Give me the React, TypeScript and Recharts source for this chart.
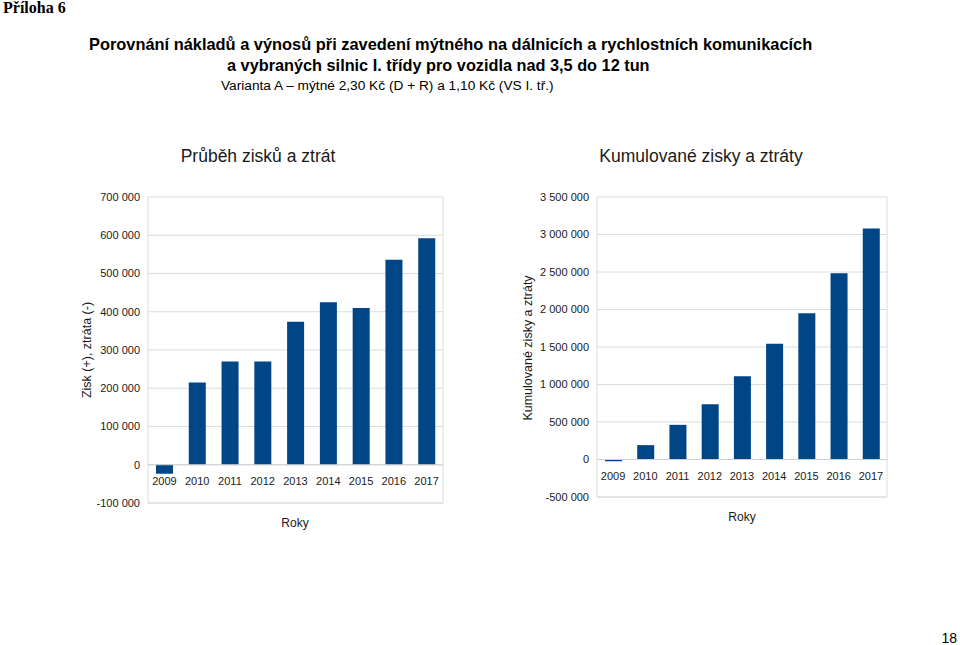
import React from 'react';
import { BarChart, Bar, XAxis, YAxis, CartesianGrid, ReferenceLine } from 'recharts';

const years = ['2009', '2010', '2011', '2012', '2013', '2014', '2015', '2016', '2017'];
const profitLoss = [-23500, 215000, 270000, 270000, 374000, 425000, 410000, 536000, 592000];
const cumulative = [-23500, 191500, 462000, 737000, 1111000, 1542000, 1951000, 2484000, 3080000];
const leftTicks = [-100000, 0, 100000, 200000, 300000, 400000, 500000, 600000, 700000];
const rightTicks = [-500000, 0, 500000, 1000000, 1500000, 2000000, 2500000, 3000000, 3500000];

const BLUE = '#004586';
const FRAME = '#dcdcdc';
const FONT = '"Liberation Sans", Arial, sans-serif';

const fmt = (v: number) => String(v).replace(/\B(?=(\d{3})+(?!\d))/g, ' ');

const yearData = years.map((y, i) => ({ year: y, value: profitLoss[i] }));
const cumData = years.map((y, i) => ({ year: y, value: cumulative[i] }));

// years sit just below the zero line, not at the bottom of the plot
const YearTick = (props: any) => {
  const { x, y, payload, shift } = props;
  return (
    <text x={x} y={y + shift} textAnchor="middle" fontSize={11} fontFamily={FONT} fill="#1a1a1a">
      {payload.value}
    </text>
  );
};

type PanelProps = {
  data: { year: string; value: number }[];
  ticks: number[];
  axisWidth: number;
  rightMargin: number;
  xHeight: number;
  shift: number;
};

function Panel({ data, ticks, axisWidth, rightMargin, xHeight, shift }: PanelProps) {
  const domain: [number, number] = [ticks[0], ticks[ticks.length - 1]];
  return (
    <BarChart
      width={400}
      height={360}
      data={data}
      margin={{ top: 17, right: rightMargin, bottom: 0, left: 0 }}
      barSize={17}
    >
      <CartesianGrid vertical={false} stroke={FRAME} />
      <XAxis
        dataKey="year"
        height={xHeight}
        tickLine={false}
        axisLine={{ stroke: FRAME }}
        interval={0}
        tick={(p: any) => <YearTick {...p} shift={shift} />}
      />
      <YAxis
        width={axisWidth}
        domain={domain}
        ticks={ticks}
        interval={0}
        tickLine={false}
        axisLine={{ stroke: FRAME }}
        tickFormatter={fmt}
        tick={{ fontSize: 11, fill: '#1a1a1a', fontFamily: FONT }}
      />
      <YAxis
        yAxisId="frame"
        orientation="right"
        width={1}
        domain={domain}
        tick={false}
        tickLine={false}
        axisLine={{ stroke: FRAME }}
      />
      <ReferenceLine y={0} stroke="#cfcfcf" />
      <Bar dataKey="value" fill={BLUE} isAnimationActive={false} />
    </BarChart>
  );
}

export default function App() {
  return (
    <div
      style={{
        position: 'absolute',
        left: 0,
        top: 0,
        width: 960,
        height: 645,
        background: '#fff',
        fontFamily: FONT,
      }}
    >
      <svg width={960} height={645} style={{ position: 'absolute', left: 0, top: 0 }}>
        <text x={3} y={13} fontFamily='"Liberation Serif", "Times New Roman", serif' fontWeight="bold" fontSize={16}>
          Příloha 6
        </text>
        <text x={89} y={50} fontFamily={FONT} fontWeight="bold" fontSize={16.4}>
          Porovnání nákladů a výnosů při zavedení mýtného na dálnicích a rychlostních komunikacích
        </text>
        <text x={227} y={71} fontFamily={FONT} fontWeight="bold" fontSize={16.3}>
          a vybraných silnic I. třídy pro vozidla nad 3,5 do 12 tun
        </text>
        <text x={221} y={90} fontFamily={FONT} fontSize={13.7}>
          Varianta A – mýtné 2,30 Kč (D + R) a 1,10 Kč (VS I. tř.)
        </text>

        <text x={258} y={162} textAnchor="middle" fontFamily={FONT} fontSize={17.5} fill="#1a1a1a">
          Průběh zisků a ztrát
        </text>
        <text x={701} y={162} textAnchor="middle" fontFamily={FONT} fontSize={17.5} fill="#1a1a1a">
          Kumulované zisky a ztráty
        </text>

        <text transform="translate(91,350) rotate(-90)" textAnchor="middle" fontFamily={FONT} fontSize={12.5} fill="#1a1a1a">
          Zisk (+), ztráta (-)
        </text>
        <text transform="translate(532,348) rotate(-90)" textAnchor="middle" fontFamily={FONT} fontSize={12.5} fill="#1a1a1a">
          Kumulované zisky a ztráty
        </text>

        <text x={295} y={527} textAnchor="middle" fontFamily={FONT} fontSize={12} fill="#1a1a1a">
          Roky
        </text>
        <text x={742} y={521} textAnchor="middle" fontFamily={FONT} fontSize={12} fill="#1a1a1a">
          Roky
        </text>

        <text x={957} y={643} textAnchor="end" fontFamily={FONT} fontSize={14}>
          18
        </text>
      </svg>

      <div style={{ position: 'absolute', left: 60, top: 180 }}>
        <Panel data={yearData} ticks={leftTicks} axisWidth={88} rightMargin={16} xHeight={37} shift={-26} />
      </div>
      <div style={{ position: 'absolute', left: 500, top: 180 }}>
        <Panel data={cumData} ticks={rightTicks} axisWidth={97} rightMargin={12} xHeight={43} shift={-25} />
      </div>
    </div>
  );
}
